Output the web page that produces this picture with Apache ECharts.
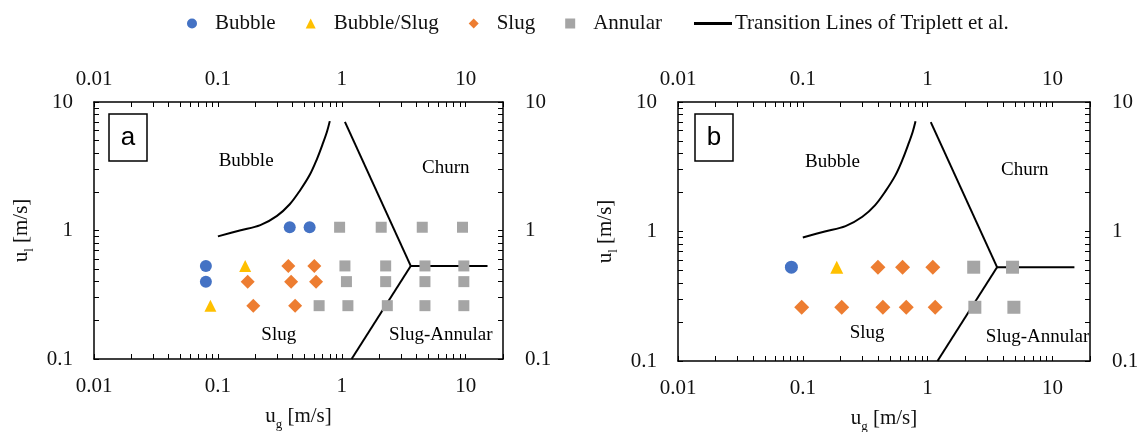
<!DOCTYPE html>
<html>
<head>
<meta charset="utf-8">
<script src="https://cdn.jsdelivr.net/npm/echarts@6/dist/echarts.min.js"></script>
<style>
  html, body { margin: 0; padding: 0; background: #fff; }
  #chart { width: 1138px; height: 432px; }
</style>
</head>
<body>
<div id="chart"></div>
<script>
// panel a: [u_g, u_l] in m/s
const bubbleA = [[0.38, 1.06], [0.55, 1.06], [0.08, 0.53], [0.08, 0.40]]
const bubbleSlugA = [[0.166, 0.53], [0.087, 0.26]]
const slugA = [[0.37, 0.53], [0.60, 0.53], [0.174, 0.40], [0.39, 0.40], [0.62, 0.40], [0.193, 0.26], [0.42, 0.26]]
const annularA = [
  [0.96, 1.06], [2.08, 1.06], [4.46, 1.06], [9.42, 1.06],
  [1.06, 0.53], [2.26, 0.53], [4.69, 0.53], [9.66, 0.53],
  [1.09, 0.40], [2.26, 0.40], [4.69, 0.40], [9.66, 0.40],
  [0.656, 0.26], [1.12, 0.26], [2.33, 0.26], [4.69, 0.26], [9.66, 0.26]
]

// panel b
const bubbleB = [[0.081, 0.53]]
const bubbleSlugB = [[0.187, 0.53]]
const slugB = [[0.40, 0.53], [0.63, 0.53], [1.10, 0.53], [0.098, 0.26], [0.205, 0.26], [0.438, 0.26], [0.674, 0.26], [1.15, 0.26]]
const annularB = [[2.34, 0.53], [4.79, 0.53], [2.39, 0.26], [4.91, 0.26]]

// Triplett et al. transition lines (same on both panels)
const bubbleSlugLine = [[0.1, 0.9], [0.15, 1.0], [0.22, 1.1], [0.3, 1.3], [0.38, 1.6], [0.46, 2.05], [0.55, 2.7], [0.63, 3.6], [0.7, 4.7], [0.76, 5.9], [0.8, 7.1]]
const churnLine = [[1.06, 7.0], [3.6, 0.53]]
const annularLine = [[3.6, 0.53], [15, 0.53]]
const slugAnnularLine = [[3.6, 0.53], [1.2, 0.1]]

// regime names, placed in data coordinates
const regionsA = [['Bubble', 0.169, 3.5], ['Churn', 6.9, 3.05], ['Slug', 0.31, 0.155], ['Slug-Annular', 6.3, 0.155]]
const regionsB = [['Bubble', 0.173, 3.44], ['Churn', 6.0, 2.97], ['Slug', 0.328, 0.165], ['Slug-Annular', 7.6, 0.153]]

const xLabels = [0.01, 0.1, 1, 10]
const yLabels = [0.1, 1, 10]

const font = 'Liberation Serif'
const ink = '#111'
const lineName = 'Transition Lines of Triplett et al.'

const pick = list => v => list.some(l => Math.abs(Math.log10(v) - Math.log10(l)) < 1e-6) ? String(v) : ''

const titleRich = {
  m: { fontSize: 21, fontFamily: font, color: ink, lineHeight: 23, verticalAlign: 'top' },
  s: { fontSize: 13, fontFamily: font, color: ink, lineHeight: 13, verticalAlign: 'top', padding: [12, 0, 0, 0] }
}

const axisCommon = {
  type: 'log',
  logBase: 10,
  nameLocation: 'middle',
  nameTextStyle: { rich: titleRich },
  axisLine: { show: true, onZero: false, lineStyle: { color: '#000', width: 1.5 } },
  axisTick: { show: true, inside: true, length: 5, lineStyle: { color: '#000', width: 1 } },
  minorTick: { show: true, splitNumber: 9, length: 5, lineStyle: { color: '#000', width: 1 } },
  splitLine: { show: false },
  minorSplitLine: { show: false }
}

const xAx = (grid, pos) => ({
  ...axisCommon,
  gridIndex: grid,
  position: pos,
  min: 0.01,
  max: 20,
  name: pos === 'bottom' ? '{m|u}{s|g}{m| [m/s]}' : '',
  nameGap: 47,
  axisLabel: {
    margin: pos === 'top' ? 12 : 17,
    fontSize: 21,
    fontFamily: font,
    color: ink,
    formatter: pick(xLabels)
  }
})

const yAx = (grid, pos) => ({
  ...axisCommon,
  gridIndex: grid,
  position: pos,
  min: 0.1,
  max: 10,
  name: pos === 'left' ? '{m|u}{s|l}{m| [m/s]}' : '',
  nameRotate: 90,
  nameGap: 60,
  axisLabel: {
    margin: pos === 'left' ? 21 : 22,
    fontSize: 21,
    fontFamily: font,
    color: ink,
    formatter: pick(yLabels)
  }
})

const scatter = (name, data, idx, symbol, size, color) => ({
  name,
  type: 'scatter',
  xAxisIndex: idx,
  yAxisIndex: idx,
  symbol,
  symbolSize: size,
  itemStyle: { color, opacity: 1 },
  data,
  z: 3
})

const line = (data, idx, smooth) => ({
  name: lineName,
  type: 'line',
  xAxisIndex: idx,
  yAxisIndex: idx,
  symbol: 'none',
  smooth: smooth ? 0.35 : false,
  lineStyle: { color: '#000', width: 2 },
  itemStyle: { color: '#000' },
  data,
  z: 2
})

const regionLabels = (list, idx) => ({
  name: 'regions',
  type: 'scatter',
  xAxisIndex: idx,
  yAxisIndex: idx,
  symbolSize: 1,
  silent: true,
  itemStyle: { color: '#fff', opacity: 0 },
  label: { show: true, position: 'inside', formatter: '{b}', fontSize: 19, fontFamily: font, color: '#000', opacity: 1, textBorderWidth: 0 },
  data: list.map(r => ({ name: r[0], value: [r[1], r[2]] }))
})

const panelSeries = (idx, bub, bubSlug, slug, ann, regions, big) => [
  scatter('Bubble', bub, idx, 'circle', big ? 13 : 12, '#4472C4'),
  scatter('Bubble/Slug', bubSlug, idx, 'triangle', big ? 13 : 12, '#FFC000'),
  scatter('Slug', slug, idx, 'diamond', big ? 15 : 14, '#ED7D31'),
  scatter('Annular', ann, idx, 'rect', big ? 13 : 11, '#A5A5A5'),
  line(bubbleSlugLine, idx, true),
  line(churnLine, idx),
  line(annularLine, idx),
  line(slugAnnularLine, idx),
  regionLabels(regions, idx)
]

const chart = echarts.init(document.getElementById('chart'), null, { renderer: 'canvas' })

const boxLabel = (x, letter) => [
  { type: 'rect', shape: { x, y: 114, width: 38, height: 47 }, style: { fill: '#fff', stroke: '#000', lineWidth: 1.5 }, z: 10 },
  { type: 'text', x: x + 19, y: 138, style: { text: letter, font: '26px "Liberation Sans"', fill: '#000', textAlign: 'center', textVerticalAlign: 'middle' }, z: 11 }
]

chart.setOption({
  animation: false,
  grid: [
    { left: 94, top: 102, width: 409, height: 257, containLabel: false, outerBoundsMode: 'none' },
    { left: 678, top: 102, width: 412, height: 259, containLabel: false, outerBoundsMode: 'none' }
  ],
  legend: [
    {
      data: ['Bubble', 'Bubble/Slug', 'Slug', 'Annular'],
      left: 182,
      top: 8,
      itemWidth: 10,
      itemHeight: 10,
      itemGap: 30,
      textStyle: { fontSize: 21, fontFamily: font, color: ink, padding: [0, 0, 0, 13] }
    },
    {
      data: [lineName],
      icon: 'rect',
      left: 689,
      top: 8,
      itemWidth: 38,
      itemHeight: 3,
      textStyle: { fontSize: 21, fontFamily: font, color: ink, padding: [0, 0, 0, -2] }
    }
  ],
  xAxis: [xAx(0, 'bottom'), xAx(0, 'top'), xAx(1, 'bottom'), xAx(1, 'top')],
  yAxis: [yAx(0, 'left'), yAx(0, 'right'), yAx(1, 'left'), yAx(1, 'right')],
  series: [
    ...panelSeries(0, bubbleA, bubbleSlugA, slugA, annularA, regionsA, false),
    ...panelSeries(2, bubbleB, bubbleSlugB, slugB, annularB, regionsB, true)
  ],
  graphic: [...boxLabel(109, 'a'), ...boxLabel(695, 'b')]
})
</script>
</body>
</html>
